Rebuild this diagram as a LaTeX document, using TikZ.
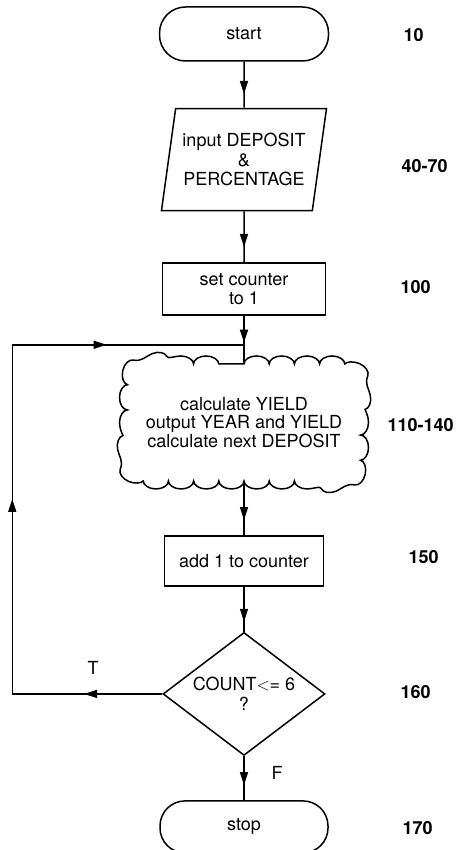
\documentclass[tikz,border=0pt]{standalone}
\usepackage{fontspec}
\setmainfont{TeX Gyre Heros}
\usetikzlibrary{arrows.meta,positioning,shapes.geometric,decorations.pathmorphing,decorations.markings}
\tikzset{
  base/.style={draw,line width=1.5pt,align=center,font=\fontsize{18}{19.5}\selectfont,inner sep=2pt},
  term/.style={base,rounded corners=26pt,minimum width=169pt,minimum height=54pt},
  io/.style={base,trapezium,trapezium left angle=76,trapezium right angle=104,trapezium stretches body=true,minimum width=165pt,minimum height=102pt},
  proc/.style={base,rectangle,minimum height=52pt},
  blob/.style={align=center,inner sep=0pt,minimum width=249pt,minimum height=133pt,font=\fontsize{18}{18.5}\selectfont},
  puffs/.style={draw,line width=1.5pt,decorate,decoration={bumps,segment length=50.41pt,amplitude=8pt}},
  decision/.style={base,diamond,aspect=1.32,minimum width=162pt,minimum height=123pt},
  flow/.style={draw,line width=1.5pt,postaction={decorate},
    decoration={markings,mark=at position #1 with {\arrow{Triangle[length=13pt,width=8pt]}}}},
  flow/.default=0.7,
  backflow/.style={draw,line width=1.5pt,postaction={decorate},
    decoration={markings,
      mark=at position 0.107 with {\arrow{Triangle[length=13pt,width=8pt]}},
      mark=at position 0.472 with {\arrow{Triangle[length=13pt,width=8pt]}},
      mark=at position 0.812 with {\arrow{Triangle[length=13pt,width=8pt]}}}},
  lineno/.style={font=\fontsize{18}{18}\selectfont\bfseries,anchor=west},
  lbl/.style={font=\fontsize{18}{18}\selectfont}
}
\begin{document}
\begin{tikzpicture}[x=1pt,y=-1pt]
  \useasboundingbox (0,0) rectangle (457,850);
  \node[term] (start) at (244,34) {start};
  \node[io, below=46pt of start] (input) {input DEPOSIT\\\&\\PERCENTAGE};
  \node[proc, minimum width=163pt, below=51pt of input] (set) {set counter\\to 1};
  \node[blob, below=40pt of set] (calc) {calculate YIELD\\output YEAR and YIELD\\calculate next DEPOSIT};
  \node[proc, minimum width=159pt, minimum height=50pt, below=46pt of calc] (add) {add 1 to counter};
  \node[decision, below=45pt of add] (test) {COUNT$<$= 6\\?};
  \node[term, minimum width=168pt, minimum height=52pt, rounded corners=25pt, below=44pt of test] (stop) {stop};
  \coordinate[below=29pt of set] (join);
  \coordinate[left=150pt of test.west] (tcorner);
  % cloud outline round the calculation
  \draw[puffs, shift={(calc.center)}] (0,-58.5) -- (90.5,-58.5) arc[start angle=-90,end angle=0,radius=26]
    -- (116.5,32.5) arc[start angle=0,end angle=90,radius=26]
    -- (-90.5,58.5) arc[start angle=90,end angle=180,radius=26]
    -- (-116.5,-32.5) arc[start angle=180,end angle=270,radius=26] -- cycle;
  % line numbers of the program
  \node[lineno] (n10) at (400,35) {10};
  \node[lineno] (n40) at (398,166) {40-70};
  \node[lineno] (n100) at (397,287) {100};
  \node[lineno] (n110) at (384,425) {110-140};
  \node[lineno] (n150) at (405,557) {150};
  \node[lineno] (n160) at (397,692) {160};
  \node[lineno] (n170) at (399,828) {170};
  \node[lbl] (tlab) at (93,668) {T};
  \node[lbl] (flab) at (277,773) {F};
  \draw[flow] (start) -- (input); \draw[flow] (input) -- (set); \draw[flow=0.56] (set) -- ([yshift=-8pt]calc.north);
  \draw[flow=0.72] ([yshift=8pt]calc.south) -- (add); \draw[flow=0.78] (add) -- (test); \draw[flow=0.66] (test) -- (stop);
  \draw[backflow] (test.west) -- (tcorner) -- (tcorner |- join) -- (join);
\end{tikzpicture}
\end{document}
